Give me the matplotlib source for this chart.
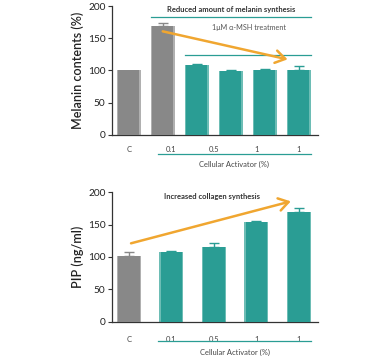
import matplotlib
matplotlib.use("Agg")
import matplotlib.pyplot as plt
import numpy as np

plt.rcParams['font.family'] = ['Lato', 'DejaVu Sans']

# Data
top_values = [100, 169, 108.5, 99.5, 101, 100.5]
top_errors = [0, 5, 1, 0.8, 0.8, 6]
top_colors_kind = ['gray', 'gray', 'teal', 'teal', 'teal', 'teal']
top_tick_labels = ['C', '0.1', '0.5', '1', '1']

bot_values = [101.5, 107.7, 115.5, 154, 169.6]
bot_errors = [5.5, 1, 5.5, 1.3, 5.5]
bot_colors_kind = ['gray', 'teal', 'teal', 'teal', 'teal']
bot_tick_labels = ['C', '0.1', '0.5', '1', '1']

GRAY = '#888888'
GRAY_EDGE = '#b0b0b0'
TEAL = '#2a9d94'
TEAL_EDGE = '#6dbdb5'
ORANGE = '#f0a630'
DARK = '#333333'

cmap = {'gray': (GRAY, GRAY_EDGE), 'teal': (TEAL, TEAL_EDGE)}

fig = plt.figure(figsize=(3.88, 3.56), dpi=100)

def style_axes(ax):
    for s in ['top', 'right']:
        ax.spines[s].set_visible(False)
    ax.spines['left'].set_color(DARK)
    ax.spines['bottom'].set_color(DARK)
    ax.spines['left'].set_linewidth(0.9)
    ax.spines['bottom'].set_linewidth(0.9)
    ax.set_ylim(0, 200)
    ax.set_yticks([0, 50, 100, 150, 200])
    ax.tick_params(axis='y', labelsize=7.3, length=3, width=0.8, color=DARK, pad=1.5, labelcolor='#222222')
    ax.tick_params(axis='x', length=0, labelsize=5.5, pad=8, labelcolor='#444444')

def draw_bars(ax, xs, vals, errs, kinds, width):
    for x, v, e, k in zip(xs, vals, errs, kinds):
        fc, ec = cmap[k]
        ax.bar(x, v, width=width, color=ec, zorder=2)
        ax.bar(x, v, width=width * 0.9, color=fc, zorder=3)
        if e > 0:
            ax.errorbar(x, v, yerr=[[0], [e]], fmt='none', ecolor=fc, elinewidth=1.0,
                        capsize=3.5, capthick=1.0, zorder=4)

# Top chart
ax1 = fig.add_axes([0.288, 0.621, 0.532, 0.362])
style_axes(ax1)
x_top = np.arange(len(top_values))
draw_bars(ax1, x_top, top_values, top_errors, top_colors_kind, 0.7)
ax1.set_xlim(-0.5, 5.57)
ax1.set_xticks([0, 1.25, 2.5, 3.75, 5.0])
ax1.set_xticklabels(top_tick_labels)
ax1.set_ylabel('Melanin contents (%)', fontsize=9, fontweight='semibold', labelpad=3, color='#222222')
ax1.plot([0.65, 5.35], [183.4, 183.4], color=TEAL, lw=0.9, clip_on=False)
ax1.plot([1.66, 5.35], [124, 124], color=TEAL, lw=0.9, clip_on=False)
ax1.text(3.0, 194.6, 'Reduced amount of melanin synthesis', fontsize=5.5, fontweight='bold',
         ha='center', va='center', color='#333333')
ax1.text(3.53, 167.4, '1μM α-MSH treatment', fontsize=5.2, ha='center', va='center',
         color='#555555', family=['Lato', 'DejaVu Sans'])
ax1.plot([0.86, 5.35], [-29.5, -29.5], color=TEAL, lw=0.9, clip_on=False)
ax1.text(3.1, -45.4, 'Cellular Activator (%)', fontsize=5.4, ha='center', va='center',
         color='#444444')
ax1.annotate('', xy=(4.75, 116.3), xytext=(0.92, 161.7),
             arrowprops=dict(arrowstyle='->,head_length=0.7,head_width=0.45', color=ORANGE, lw=1.8),
             zorder=5)

# Bottom chart
ax2 = fig.add_axes([0.288, 0.0964, 0.532, 0.3636])
style_axes(ax2)
x_bot = np.arange(len(bot_values))
draw_bars(ax2, x_bot, bot_values, bot_errors, bot_colors_kind, 0.565)
ax2.set_xlim(-0.4, 4.45)
ax2.set_xticks(x_bot)
ax2.set_xticklabels(bot_tick_labels)
ax2.tick_params(axis='x', pad=10)
ax2.set_ylabel('PIP (ng/ml)', fontsize=9, fontweight='semibold', labelpad=3, color='#222222')
ax2.text(1.96, 194, 'Increased collagen synthesis', fontsize=5.5, fontweight='bold',
         ha='center', va='center', color='#333333')
ax2.plot([0.69, 4.28], [-29.8, -29.8], color=TEAL, lw=0.9, clip_on=False)
ax2.text(2.49, -47.3, 'Cellular Activator (%)', fontsize=5.4, ha='center', va='center',
         color='#444444')
ax2.annotate('', xy=(3.87, 187), xytext=(-0.01, 120),
             arrowprops=dict(arrowstyle='->,head_length=0.7,head_width=0.45', color=ORANGE, lw=1.8),
             zorder=5)

fig.savefig('out.png', dpi=100)
